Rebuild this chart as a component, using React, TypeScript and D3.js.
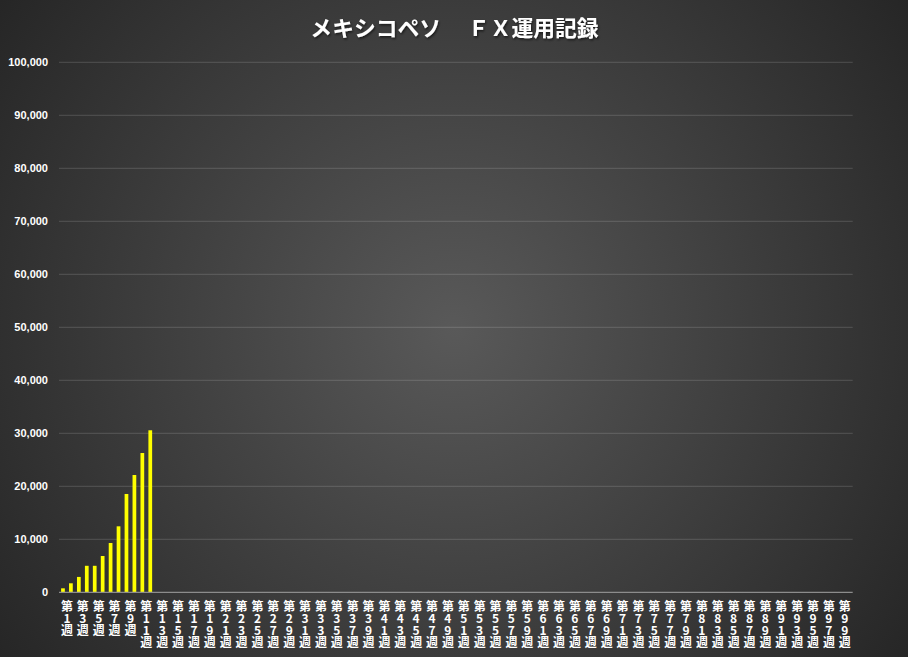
import React, { useEffect, useRef } from "react";
import * as d3 from "d3";

// 週ラベル (第1週〜第100週)
const weeks: string[] = Array.from({ length: 100 }, (_, i) => `第${i + 1}週`);
// 運用成績 (第1週〜第12週のみ記録あり)
const values: number[] = [
  750, 1700, 2900, 5000, 5000, 6850, 9300, 12450, 18550, 22130, 26280, 30570,
];
const yTicks: number[] = [0, 10000, 20000, 30000, 40000, 50000, 60000, 70000, 80000, 90000, 100000];
const title = "メキシコペソ　 ＦＸ運用記録";

const W = 908;
const H = 657;

const App = () => {
  const svgRef = useRef<SVGSVGElement>(null);

  useEffect(() => {
    if (!svgRef.current) return;
    const root = d3.select(svgRef.current);
    root.selectAll("*").remove();

    const margin = { top: 62.3, right: 55.3, bottom: 64.7, left: 59 };
    const plotW = W - margin.left - margin.right;
    const plotH = H - margin.top - margin.bottom;

    // background gradient
    const defs = root.append("defs");
    const grad = defs
      .append("radialGradient")
      .attr("id", "bg")
      .attr("gradientUnits", "userSpaceOnUse")
      .attr("cx", W / 2)
      .attr("cy", H / 2)
      .attr("r", 560);
    grad.append("stop").attr("offset", "0%").attr("stop-color", "#595959");
    grad.append("stop").attr("offset", "100%").attr("stop-color", "#262626");

    const shadow = defs.append("filter").attr("id", "ts").attr("x", "-10%").attr("y", "-30%").attr("width", "120%").attr("height", "160%");
    shadow
      .append("feDropShadow")
      .attr("dx", 1)
      .attr("dy", 1.5)
      .attr("stdDeviation", 0.8)
      .attr("flood-color", "#000")
      .attr("flood-opacity", 0.6);

    root.append("rect").attr("width", W).attr("height", H).attr("fill", "url(#bg)");

    // title
    root
      .append("text")
      .attr("x", W / 2 + 0.5)
      .attr("y", 26.5)
      .attr("text-anchor", "middle")
      .attr("dominant-baseline", "central")
      .attr("xml:space", "preserve")
      .style("white-space", "pre")
      .attr("fill", "#ffffff")
      .attr("font-family", "'Noto Sans CJK JP', sans-serif")
      .attr("font-weight", "bold")
      .attr("font-size", 21.8)
      .attr("filter", "url(#ts)")
      .text(title);

    const g = root.append("g").attr("transform", `translate(${margin.left},${margin.top})`);

    const x = d3.scaleBand<string>().domain(weeks).range([0, plotW]).padding(0);
    const y = d3.scaleLinear().domain([0, 100000]).range([plotH, 0]);

    // gridlines
    g.selectAll("line.grid")
      .data(yTicks.filter((t) => t > 0))
      .enter()
      .append("line")
      .attr("class", "grid")
      .attr("x1", 0)
      .attr("x2", plotW)
      .attr("y1", (d) => y(d))
      .attr("y2", (d) => y(d))
      .attr("stroke", "rgba(255,255,255,0.16)")
      .attr("stroke-width", 1);

    // y labels
    g.selectAll("text.ytick")
      .data(yTicks)
      .enter()
      .append("text")
      .attr("class", "ytick")
      .attr("x", -11)
      .attr("y", (d) => y(d))
      .attr("dy", "0.35em")
      .attr("text-anchor", "end")
      .attr("fill", "#ffffff")
      .attr("font-family", "'Liberation Sans', Arial, sans-serif")
      .attr("font-weight", "bold")
      .attr("font-size", 11)
      .text((d) => d3.format(",")(d));

    // bars
    const bw = x.bandwidth() * 0.47;
    g.selectAll("rect.bar")
      .data(values)
      .enter()
      .append("rect")
      .attr("class", "bar")
      .attr("x", (_, i) => (x(weeks[i]) as number) + (x.bandwidth() - bw) / 2)
      .attr("y", (d) => y(d))
      .attr("width", bw)
      .attr("height", (d) => plotH - y(d))
      .attr("fill", "#ffff00");

    // x axis line
    g.append("line")
      .attr("x1", 0)
      .attr("x2", plotW)
      .attr("y1", plotH)
      .attr("y2", plotH)
      .attr("stroke", "#8c8c8c")
      .attr("stroke-width", 1.2);

    // x labels (every other week, vertical upright text)
    const labelWeeks = weeks.filter((_, i) => i % 2 === 0);
    g.selectAll("text.xtick")
      .data(labelWeeks)
      .enter()
      .append("text")
      .attr("class", "xtick")
      .attr("x", (d) => (x(d) as number) + x.step())
      .attr("y", plotH + 8)
      .style("writing-mode", "vertical-rl")
      .style("text-orientation", "upright")
      .attr("fill", "#ffffff")
      .attr("font-family", "'Noto Sans CJK JP', sans-serif")
      .attr("font-weight", "bold")
      .attr("font-size", 12)
      .text((d) => d);
  }, []);

  return (
    <svg
      ref={svgRef}
      width={W}
      height={H}
      style={{ position: "absolute", left: 0, top: 0, display: "block" }}
    ></svg>
  );
};

export default App;
